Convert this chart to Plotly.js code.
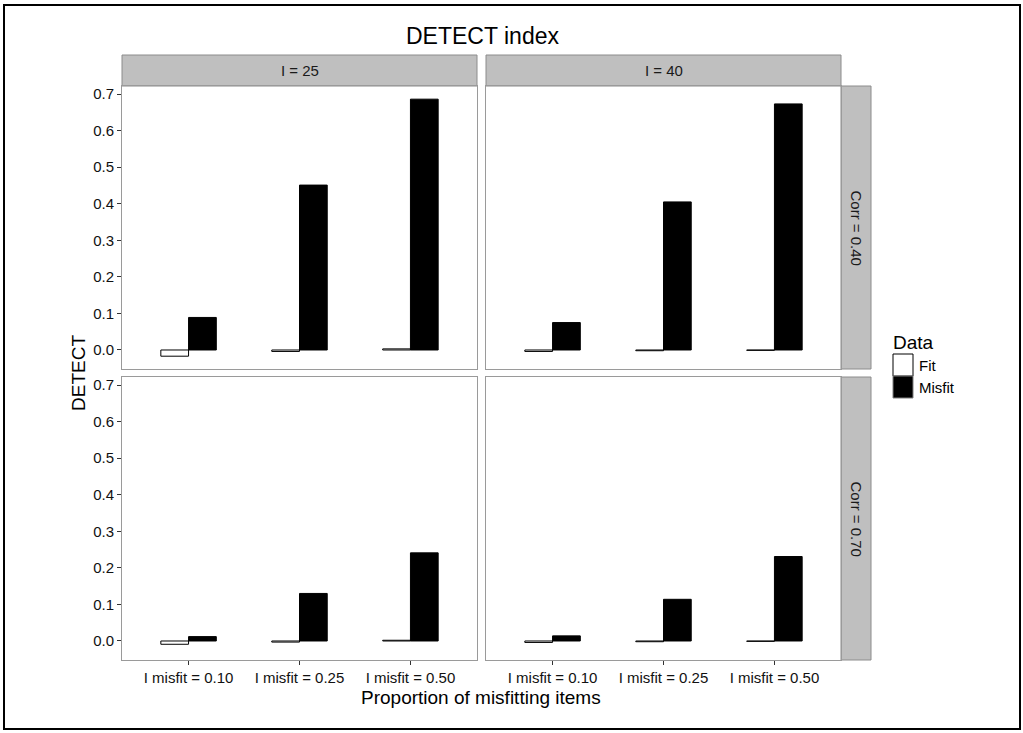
<!DOCTYPE html>
<html>
<head>
<meta charset="utf-8">
<script src="https://cdn.plot.ly/plotly-3.0.1.min.js"></script>
<style>html,body{margin:0;padding:0;background:#fff;}#chart{width:1023px;height:733px;}</style>
</head>
<body>
<div id="chart"></div>
<script>
const categories = ["I misfit = 0.10", "I misfit = 0.25", "I misfit = 0.50"];
const yTickVals = [0, 0.1, 0.2, 0.3, 0.4, 0.5, 0.6, 0.7];
const yTickText = ["0.0", "0.1", "0.2", "0.3", "0.4", "0.5", "0.6", "0.7"];
const colLabels = ["I = 25", "I = 40"];
const rowLabels = ["Corr = 0.40", "Corr = 0.70"];
const seriesNames = ["Fit", "Misfit"];

const fit_I25_c40 = [-0.017, -0.004, 0.003];
const misfit_I25_c40 = [0.089, 0.451, 0.686];
const fit_I40_c40 = [-0.004, -0.002, -0.001];
const misfit_I40_c40 = [0.075, 0.405, 0.673];
const fit_I25_c70 = [-0.009, -0.003, 0.002];
const misfit_I25_c70 = [0.012, 0.130, 0.241];
const fit_I40_c70 = [-0.004, -0.002, -0.001];
const misfit_I40_c70 = [0.014, 0.114, 0.231];

const W = 1023, H = 733;
const px = x => x / W;
const py = y => 1 - y / H;

const panels = [
  {fit: fit_I25_c40, mis: misfit_I25_c40, xa: 'x', ya: 'y'},
  {fit: fit_I40_c40, mis: misfit_I40_c40, xa: 'x2', ya: 'y2'},
  {fit: fit_I25_c70, mis: misfit_I25_c70, xa: 'x3', ya: 'y3'},
  {fit: fit_I40_c70, mis: misfit_I40_c70, xa: 'x4', ya: 'y4'}
];

const traces = [];
panels.forEach(p => {
  traces.push({type: 'bar', x: categories, y: p.fit, name: seriesNames[0], xaxis: p.xa, yaxis: p.ya,
    marker: {color: '#ffffff', line: {color: '#000000', width: 1}}, showlegend: false, hoverinfo: 'y'});
  traces.push({type: 'bar', x: categories, y: p.mis, name: seriesNames[1], xaxis: p.xa, yaxis: p.ya,
    marker: {color: '#000000', line: {color: '#000000', width: 1}}, showlegend: false, hoverinfo: 'y'});
});

const colX = [[122, 477], [486, 841]];
const rowY = [[86, 369], [377, 660]];
const yRange = [-0.052, 0.722];
const font = 'Liberation Sans, Arial, sans-serif';

function xax(col, row) {
  return {
    domain: [px(colX[col][0]), px(colX[col][1])],
    anchor: ['y', 'y2', 'y3', 'y4'][row * 2 + col],
    type: 'category', range: [-0.6, 2.6],
    showline: true, mirror: true, linecolor: '#9a9a9a', linewidth: 1,
    showgrid: false, zeroline: false,
    ticks: row === 1 ? 'outside' : '', ticklen: 4, tickcolor: '#333', tickwidth: 1,
    showticklabels: row === 1,
    tickfont: {family: font, size: 15, color: '#111'}
  };
}
function yax(col, row) {
  return {
    domain: [py(rowY[row][1]), py(rowY[row][0])],
    anchor: ['x', 'x2', 'x3', 'x4'][row * 2 + col],
    range: yRange,
    tickvals: yTickVals, ticktext: yTickText,
    showline: true, mirror: true, linecolor: '#9a9a9a', linewidth: 1,
    showgrid: false, zeroline: false,
    ticks: col === 0 ? 'outside' : '', ticklen: 4, tickcolor: '#333', tickwidth: 1,
    showticklabels: col === 0,
    tickfont: {family: font, size: 15, color: '#111'}
  };
}

const shapes = [];
const annotations = [];
// top strips
colX.forEach((c, i) => {
  shapes.push({type: 'rect', xref: 'paper', yref: 'paper', x0: px(c[0]), x1: px(c[1]), y0: py(86), y1: py(55),
    fillcolor: '#bfbfbf', line: {color: '#8c8c8c', width: 1}, layer: 'below'});
  annotations.push({xref: 'paper', yref: 'paper', x: px((c[0] + c[1]) / 2), y: py(70.5), text: colLabels[i],
    showarrow: false, font: {family: font, size: 15, color: '#1a1a1a'}, xanchor: 'center', yanchor: 'middle'});
});
// right strips
rowY.forEach((r, i) => {
  shapes.push({type: 'rect', xref: 'paper', yref: 'paper', x0: px(841), x1: px(871), y0: py(r[1]), y1: py(r[0]),
    fillcolor: '#bfbfbf', line: {color: '#8c8c8c', width: 1}, layer: 'below'});
  annotations.push({xref: 'paper', yref: 'paper', x: px(856), y: py((r[0] + r[1]) / 2), text: rowLabels[i],
    textangle: 90, showarrow: false, font: {family: font, size: 15, color: '#1a1a1a'}, xanchor: 'center', yanchor: 'middle'});
});
// legend drawn manually
annotations.push({xref: 'paper', yref: 'paper', x: px(891), y: py(342), text: 'Data', showarrow: false,
  font: {family: font, size: 19, color: '#000'}, xanchor: 'left', yanchor: 'middle'});
shapes.push({type: 'rect', xref: 'paper', yref: 'paper', x0: px(893), x1: px(913), y0: py(376), y1: py(354),
  fillcolor: '#ffffff', line: {color: '#000', width: 1}});
shapes.push({type: 'rect', xref: 'paper', yref: 'paper', x0: px(893), x1: px(913), y0: py(398), y1: py(376),
  fillcolor: '#000000', line: {color: '#7f7f7f', width: 1}});
annotations.push({xref: 'paper', yref: 'paper', x: px(917), y: py(365), text: seriesNames[0], showarrow: false,
  font: {family: font, size: 15, color: '#000'}, xanchor: 'left', yanchor: 'middle'});
annotations.push({xref: 'paper', yref: 'paper', x: px(917), y: py(387), text: seriesNames[1], showarrow: false,
  font: {family: font, size: 15, color: '#000'}, xanchor: 'left', yanchor: 'middle'});
// titles
annotations.push({xref: 'paper', yref: 'paper', x: px(482), y: py(36), text: 'DETECT index', showarrow: false,
  font: {family: font, size: 23, color: '#000'}, xanchor: 'center', yanchor: 'middle'});
annotations.push({xref: 'paper', yref: 'paper', x: px(481), y: py(697), text: 'Proportion of misfitting items', showarrow: false,
  font: {family: font, size: 19, color: '#000'}, xanchor: 'center', yanchor: 'middle'});
annotations.push({xref: 'paper', yref: 'paper', x: px(78), y: py(373), text: 'DETECT', textangle: -90, showarrow: false,
  font: {family: font, size: 19, color: '#000'}, xanchor: 'center', yanchor: 'middle'});
// outer frame
shapes.push({type: 'rect', xref: 'paper', yref: 'paper', x0: px(4), x1: px(1020), y0: py(729), y1: py(5),
  line: {color: '#000', width: 2}, fillcolor: 'rgba(0,0,0,0)'});

const layout = {
  width: W, height: H,
  margin: {l: 0, r: 0, t: 0, b: 0},
  paper_bgcolor: '#fff', plot_bgcolor: '#fff',
  barmode: 'group', bargap: 0.5, bargroupgap: 0,
  showlegend: false,
  xaxis: xax(0, 0), yaxis: yax(0, 0),
  xaxis2: xax(1, 0), yaxis2: yax(1, 0),
  xaxis3: xax(0, 1), yaxis3: yax(0, 1),
  xaxis4: xax(1, 1), yaxis4: yax(1, 1),
  shapes: shapes, annotations: annotations,
  font: {family: font}
};

Plotly.newPlot('chart', traces, layout, {displayModeBar: false, staticPlot: true});
</script>
</body>
</html>
